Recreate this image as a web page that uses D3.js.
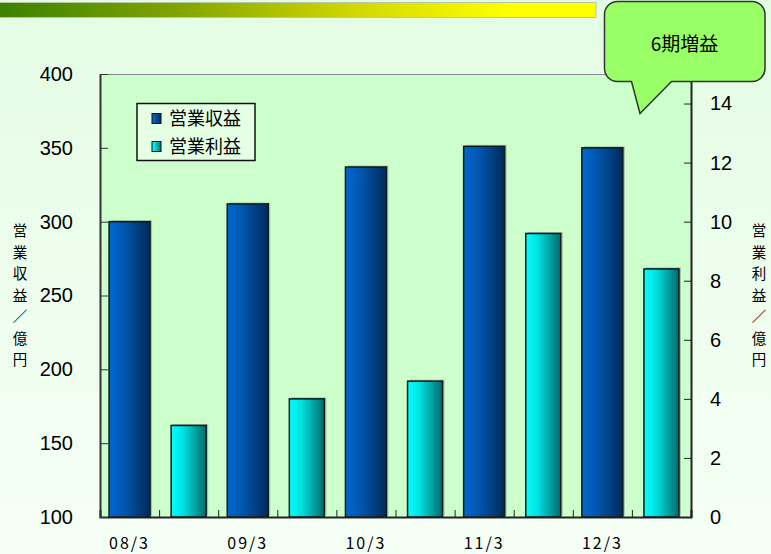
<!DOCTYPE html>
<html>
<head>
<meta charset="utf-8">
<script src="https://cdn.jsdelivr.net/npm/d3@7"></script>
<style>
  body { margin: 0; padding: 0; }
  svg { display: block; }
  text { font-family: "Noto Sans CJK JP", "Noto Sans", sans-serif; fill: #000; }
</style>
</head>
<body>
<svg width="771" height="554"></svg>
<script>
// data
var periods = ["08/3", "09/3", "10/3", "11/3", "12/3"];
var revenue = [300, 312, 337, 351, 350];      // 営業収益 (left axis, 億円)
var profit  = [3.1, 4.0, 4.6, 9.6, 8.4];       // 営業利益 (right axis, 億円)
var leftTicks  = [100, 150, 200, 250, 300, 350, 400];
var rightTicks = [0, 2, 4, 6, 8, 10, 12, 14];
var seriesNames = ["営業収益", "営業利益"];

// plot frame
var margin = {top: 74, right: 80, bottom: 37, left: 100},
    width = 771 - margin.left - margin.right,
    height = 554 - margin.top - margin.bottom;

var svg = d3.select("svg");
var defs = svg.append("defs");

// page background
var bg = defs.append("linearGradient").attr("id", "bg").attr("x1", 0).attr("y1", 0).attr("x2", 0).attr("y2", 1);
bg.append("stop").attr("offset", "0%").attr("stop-color", "#e4fce4");
bg.append("stop").attr("offset", "100%").attr("stop-color", "#f6fff6");
svg.append("rect").attr("width", 771).attr("height", 554).attr("fill", "url(#bg)");

// top bar green -> yellow
var band = defs.append("linearGradient").attr("id", "topbar");
band.append("stop").attr("offset", "0%").attr("stop-color", "#3a8200");
band.append("stop").attr("offset", "30%").attr("stop-color", "#82a400");
band.append("stop").attr("offset", "60%").attr("stop-color", "#d2d800");
band.append("stop").attr("offset", "85%").attr("stop-color", "#ffff00");
band.append("stop").attr("offset", "100%").attr("stop-color", "#ffff00");
svg.append("rect").attr("x", -1).attr("y", 2.5).attr("width", 597).attr("height", 15)
  .attr("fill", "url(#topbar)").attr("stroke", "#b9c7a6").attr("stroke-width", 1);

// bar gradients
function barGrad(id, c0, c1, c2) {
  var g = defs.append("linearGradient").attr("id", id);
  g.append("stop").attr("offset", "0%").attr("stop-color", c0);
  g.append("stop").attr("offset", "35%").attr("stop-color", c1);
  g.append("stop").attr("offset", "100%").attr("stop-color", c2);
}
barGrad("gBlue", "#0068d0", "#0058b0", "#002a5a");
barGrad("gCyan", "#00ffff", "#00e0e0", "#006a6a");
var fills = ["url(#gBlue)", "url(#gCyan)"];

var g = svg.append("g").attr("transform", "translate(" + margin.left + "," + margin.top + ")");

// plot area
g.append("rect").attr("width", width).attr("height", height).attr("fill", "#ccffcc");
g.append("line").attr("x1", 0).attr("x2", width).attr("y1", 0.5).attr("y2", 0.5)
  .attr("stroke", "#888").attr("stroke-width", 1);

// scales
var x0 = d3.scaleBand().domain(periods).range([0, width]).padding(0);
var x1 = d3.scaleBand().domain([0, 1]).range([0, x0.bandwidth()]).padding(0);
var yL = d3.scaleLinear().domain([100, 400]).range([height, 0]);
var yR = d3.scaleLinear().domain([0, 15]).range([height, 0]);
var barW = [41, 35];

// bars
var groups = g.selectAll(".grp").data(periods).enter().append("g")
  .attr("transform", function(d) { return "translate(" + x0(d) + ",0)"; });

groups.each(function(p, i) {
  var sel = d3.select(this);
  var vals = [
    {s: 0, top: yL(revenue[i])},
    {s: 1, top: yR(profit[i])}
  ];
  vals.forEach(function(v) {
    var bx = x1(v.s) + (x1.bandwidth() - barW[v.s]) / 2;
    sel.append("rect").attr("x", bx + 2).attr("y", v.top - 1.5)
      .attr("width", barW[v.s]).attr("height", height - v.top)
      .attr("fill", "#8a9a8a").attr("opacity", 0.6);
    sel.append("rect").attr("x", bx).attr("y", v.top)
      .attr("width", barW[v.s]).attr("height", height - v.top)
      .attr("fill", fills[v.s]).attr("stroke", "#0a1a1a").attr("stroke-width", 1.5);
  });
});

// x axis: ticks between every bar
var xt = d3.scaleLinear().domain([0, 10]).range([0, width]);
g.append("g").attr("transform", "translate(0," + height + ")")
  .call(d3.axisBottom(xt).tickValues(d3.range(1, 10)).tickSize(-7).tickFormat(""))
  .call(function(a) {
    a.select(".domain").attr("stroke", "#222").attr("stroke-width", 2);
    a.selectAll(".tick line").attr("stroke", "#222");
  });

g.selectAll(".xlab").data(periods).enter().append("text")
  .attr("x", function(d) { return x0(d) + x1(0) + x1.bandwidth() / 2; })
  .attr("y", height + 32)
  .attr("text-anchor", "middle")
  .style("font-size", "16px")
  .style("letter-spacing", "2px")
  .text(function(d) { return d; });

// left axis
g.append("g")
  .call(d3.axisLeft(yL).tickValues(leftTicks).tickSize(-8).tickPadding(27).tickSizeOuter(0))
  .call(function(a) {
    a.select(".domain").attr("stroke", "#333").attr("stroke-width", 2);
    a.selectAll(".tick line").attr("stroke", "#333");
    a.selectAll("text").style("font-size", "20px").style("font-family", "'Liberation Sans', sans-serif").attr("fill", "#000");
  });

// right axis
g.append("g").attr("transform", "translate(" + width + ",0)")
  .call(d3.axisRight(yR).tickValues(rightTicks).tickSize(-7).tickPadding(19).tickSizeOuter(0))
  .call(function(a) {
    a.select(".domain").attr("stroke", "#222").attr("stroke-width", 2);
    a.selectAll(".tick line").attr("stroke", "#222");
    a.selectAll("text").style("font-size", "20px").style("font-family", "'Liberation Sans', sans-serif").attr("fill", "#000");
  });

// vertical axis titles
function vTitle(str, cx) {
  var chars = str.split("");
  svg.selectAll(null).data(chars).enter().append("text")
    .attr("x", cx)
    .attr("y", function(d, i) { return 236 + i * 21.5; })
    .attr("text-anchor", "middle")
    .style("font-size", "14.5px")
    .style("fill", "#000")
    .text(function(d) { return d; });
}
vTitle("営業収益／億円", 20);
vTitle("営業利益／億円", 759);

// legend
var lg = svg.append("g").attr("transform", "translate(137,103.5)");
lg.append("rect").attr("width", 118).attr("height", 57)
  .attr("fill", "#e4ffe4").attr("stroke", "#111").attr("stroke-width", 1.5);
seriesNames.forEach(function(name, i) {
  lg.append("rect").attr("x", 15).attr("y", 10 + i * 28).attr("width", 9).attr("height", 10)
    .attr("fill", fills[i]).attr("stroke", "#111").attr("stroke-width", 1);
  lg.append("text").attr("x", 32).attr("y", 21 + i * 28)
    .style("font-size", "18px").text(name);
});

// callout
var co = svg.append("g");
var cx0 = 604.5, cx1 = 765, cy0 = 1.5, cy1 = 81.5, r = 13;
var path = d3.path();
path.moveTo(cx0 + r, cy0);
path.lineTo(cx1 - r, cy0);
path.arcTo(cx1, cy0, cx1, cy0 + r, r);
path.lineTo(cx1, cy1 - r);
path.arcTo(cx1, cy1, cx1 - r, cy1, r);
path.lineTo(671.5, cy1);
path.lineTo(640, 113.5);
path.lineTo(631.5, cy1);
path.lineTo(cx0 + r, cy1);
path.arcTo(cx0, cy1, cx0, cy1 - r, r);
path.lineTo(cx0, cy0 + r);
path.arcTo(cx0, cy0, cx0 + r, cy0, r);
path.closePath();
co.append("path").attr("d", path.toString())
  .attr("fill", "#99ff66").attr("stroke", "#333").attr("stroke-width", 1.5);
co.append("text").attr("x", 684.5).attr("y", 51)
  .attr("text-anchor", "middle").style("font-size", "19px").text("6期増益");
</script>
</body>
</html>
